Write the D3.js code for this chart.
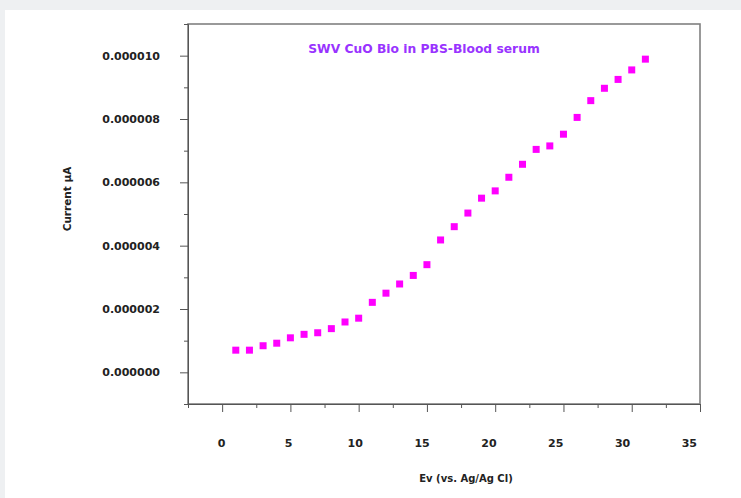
<!DOCTYPE html>
<html>
<head>
<meta charset="utf-8">
<script src="https://cdn.jsdelivr.net/npm/d3@7"></script>
<style>
  body { margin: 0; background: #eef0f2; }
  svg { display: block; }
  .axis text { font-family: "DejaVu Sans", sans-serif; font-weight: bold; font-size: 11px; fill: #222; }
  .axis path, .axis line { stroke: #555; }
</style>
</head>
<body>
<svg id="chart" width="741" height="498"></svg>
<script>
// potential (x) and current (y)
const potential = [1, 2, 3, 4, 5, 6, 7, 8, 9, 10, 11, 12, 13, 14, 15, 16,
  17, 18, 19, 20, 21, 22, 23, 24, 25, 26, 27, 28, 29, 30, 31];
const current = [0.70e-6, 0.70e-6, 0.84e-6, 0.92e-6, 1.09e-6, 1.20e-6, 1.25e-6, 1.38e-6,
  1.59e-6, 1.71e-6, 2.21e-6, 2.50e-6, 2.79e-6, 3.06e-6, 3.40e-6, 4.18e-6,
  4.60e-6, 5.03e-6, 5.50e-6, 5.73e-6, 6.16e-6, 6.57e-6, 7.04e-6, 7.15e-6,
  7.52e-6, 8.05e-6, 8.58e-6, 8.97e-6, 9.25e-6, 9.55e-6, 9.89e-6];

const xTicks = [0, 5, 10, 15, 20, 25, 30, 35];
const xMinorTicks = [-2.5, 2.5, 7.5, 12.5, 17.5, 22.5, 27.5, 32.5];
const yTicks = [0, 0.000002, 0.000004, 0.000006, 0.000008, 0.000010];
const yMinorTicks = [-0.000001, 0.000001, 0.000003, 0.000005, 0.000007, 0.000009, 0.000011];

const chartTitle = "SWV CuO Bio in PBS-Blood serum";
const xTitle = "Ev (vs. Ag/Ag Cl)";
const yTitle = "Current \u00b5A";

const svg = d3.select("#chart");
const plot = { left: 188, right: 700, top: 24, bottom: 404 };

// pannello bianco
svg.append("rect")
  .attr("x", 5).attr("y", 10)
  .attr("width", 741 - 5).attr("height", 498 - 10)
  .attr("fill", "#fff");

const x = d3.scaleLinear().domain([-2.5, 35]).range([plot.left, plot.right]);
const y = d3.scaleLinear().domain([-0.000001, 0.000011]).range([plot.bottom, plot.top]);

// cornice
svg.append("rect")
  .attr("x", plot.left).attr("y", plot.top)
  .attr("width", plot.right - plot.left).attr("height", plot.bottom - plot.top)
  .attr("fill", "none")
  .attr("stroke", "#808080")
  .attr("stroke-width", 1.6);

// asse x
const gx = svg.append("g").attr("class", "axis")
  .attr("transform", `translate(0,${plot.bottom})`)
  .call(d3.axisBottom(x).tickValues(xTicks).tickSize(8).tickPadding(27).tickSizeOuter(0));
// le etichette nell'originale sono un po' compresse verso sinistra
gx.selectAll(".tick text").attr("dx", d => -1 - d * 0.29);
svg.append("g").attr("class", "axis")
  .attr("transform", `translate(0,${plot.bottom})`)
  .call(d3.axisBottom(x).tickValues(xMinorTicks).tickSize(4).tickFormat("").tickSizeOuter(0));

// asse y
svg.append("g").attr("class", "axis")
  .attr("transform", `translate(${plot.left},0)`)
  .call(d3.axisLeft(y).tickValues(yTicks).tickSize(8).tickPadding(20)
    .tickFormat(d3.format(".6f")).tickSizeOuter(0));
svg.append("g").attr("class", "axis")
  .attr("transform", `translate(${plot.left},0)`)
  .call(d3.axisLeft(y).tickValues(yMinorTicks).tickSize(4).tickFormat("").tickSizeOuter(0));

// punti
const points = potential.map((p, i) => ({ p, c: current[i] }));
svg.append("g").selectAll("rect.pt")
  .data(points)
  .join("rect")
  .attr("class", "pt")
  .attr("x", d => x(d.p) - 3.5)
  .attr("y", d => y(d.c) - 3.5)
  .attr("width", 7).attr("height", 7)
  .attr("fill", "#ff00ff");

// titoli
svg.append("text")
  .attr("x", 424).attr("y", 53)
  .attr("text-anchor", "middle")
  .attr("font-family", "DejaVu Sans, sans-serif")
  .attr("font-weight", "bold")
  .attr("font-size", "12.3px")
  .attr("fill", "#9933ff")
  .text(chartTitle);

svg.append("text")
  .attr("x", 466).attr("y", 482)
  .attr("text-anchor", "middle")
  .attr("font-family", "DejaVu Sans, sans-serif")
  .attr("font-weight", "bold")
  .attr("font-size", "10px")
  .attr("fill", "#222")
  .text(xTitle);

svg.append("text")
  .attr("transform", "translate(71,199) rotate(-90)")
  .attr("text-anchor", "middle")
  .attr("font-family", "DejaVu Sans, sans-serif")
  .attr("font-weight", "bold")
  .attr("font-size", "10.5px")
  .attr("fill", "#222")
  .text(yTitle);
</script>
</body>
</html>
